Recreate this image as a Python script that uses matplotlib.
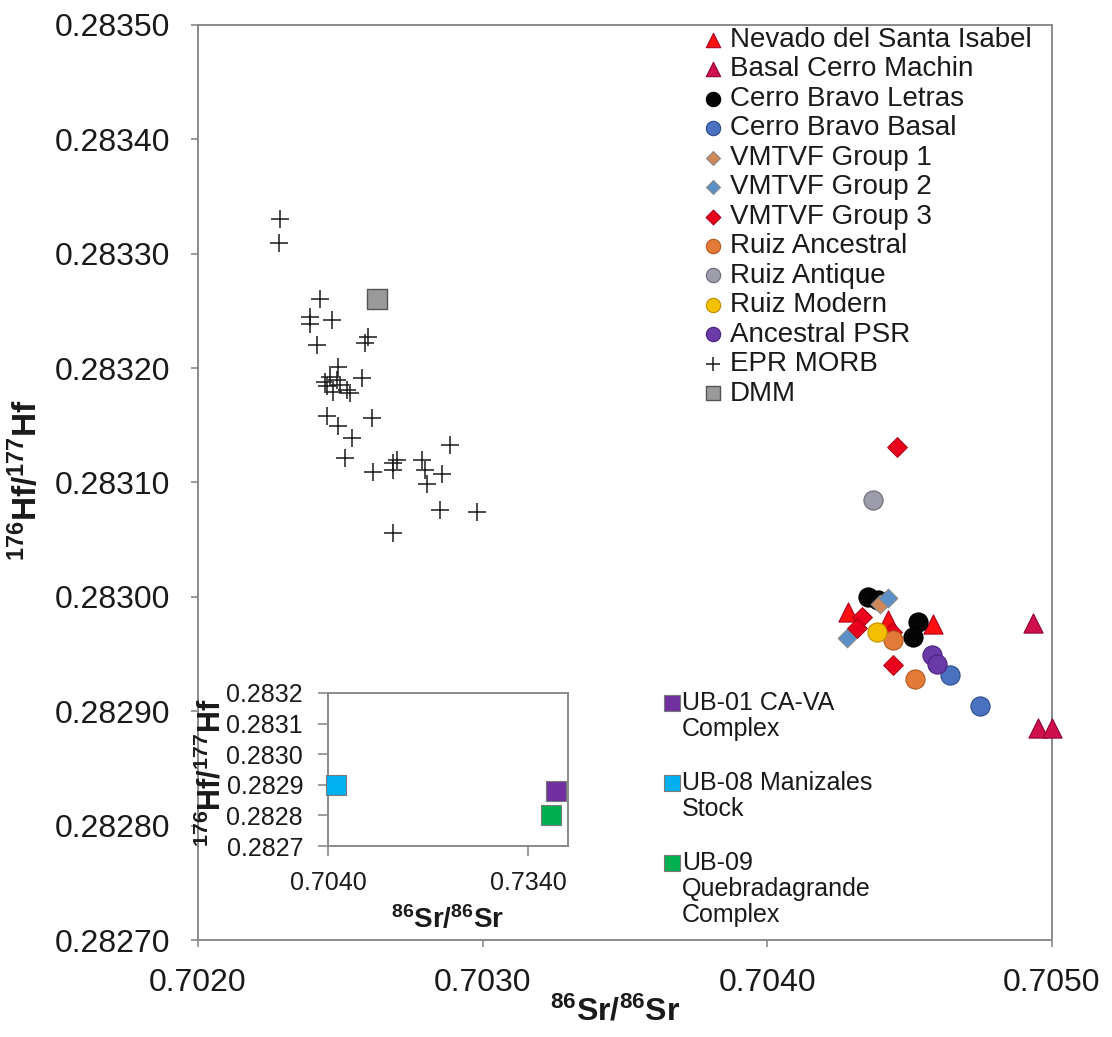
import matplotlib
matplotlib.use("Agg")
import matplotlib.pyplot as plt

plt.rcParams["font.family"] = ["Liberation Sans", "DejaVu Sans"]
plt.rcParams["mathtext.fontset"] = "custom"
plt.rcParams["mathtext.rm"] = "Liberation Sans"
plt.rcParams["mathtext.bf"] = "Liberation Sans:bold"
plt.rcParams["mathtext.it"] = "Liberation Sans:italic"

# ---------------------------------------------------------------- data
nevado_sr = [0.704283, 0.704424, 0.704582]
nevado_hf = [0.282987, 0.282980, 0.282976]

machin_sr = [0.704933, 0.704951, 0.705000]
machin_hf = [0.282977, 0.282885, 0.282885]

cb_letras_sr = [0.704354, 0.704389, 0.704529, 0.704512]
cb_letras_hf = [0.283000, 0.282997, 0.282978, 0.282965]

cb_basal_sr = [0.704642, 0.704747]
cb_basal_hf = [0.282932, 0.282905]

vmtvf1_sr = [0.704396]
vmtvf1_hf = [0.282994]

vmtvf2_sr = [0.704424, 0.704280]
vmtvf2_hf = [0.282999, 0.282964]

vmtvf3_sr = [0.704333, 0.704315, 0.704438, 0.704442, 0.704456]
vmtvf3_hf = [0.282982, 0.282973, 0.282969, 0.282940, 0.283131]

ruiz_anc_sr = [0.704442, 0.704519]
ruiz_anc_hf = [0.282962, 0.282928]

ruiz_ant_sr = [0.704371]
ruiz_ant_hf = [0.283085]

ruiz_mod_sr = [0.704385]
ruiz_mod_hf = [0.282969]

psr_sr = [0.704578, 0.704596]
psr_hf = [0.282949, 0.282941]

morb_sr = [0.702288, 0.702286, 0.702429, 0.702393, 0.702470, 0.702393, 0.702417,
           0.702598, 0.702587, 0.702464, 0.702487, 0.702452, 0.702499, 0.702522,
           0.702475, 0.702534, 0.702446, 0.702493, 0.702575, 0.702452, 0.702610,
           0.702493, 0.702540, 0.702516, 0.702616, 0.702686, 0.702686, 0.702698,
           0.702786, 0.702797, 0.702803, 0.702856, 0.702885, 0.702850, 0.702979,
           0.702686]
morb_hf = [0.283330, 0.283309, 0.283260, 0.283245, 0.283242, 0.283239, 0.283220,
           0.283227, 0.283222, 0.283192, 0.283190, 0.283184, 0.283185, 0.283181,
           0.283179, 0.283178, 0.283188, 0.283201, 0.283191, 0.283158, 0.283156,
           0.283149, 0.283139, 0.283121, 0.283109, 0.283117, 0.283111, 0.283120,
           0.283120, 0.283111, 0.283099, 0.283107, 0.283133, 0.283076, 0.283074,
           0.283056]

dmm_sr = [0.702629]
dmm_hf = [0.283260]

# basement samples (inset)
ub_labels = ["UB-01 CA-VA\nComplex", "UB-08 Manizales\nStock",
             "UB-09\nQuebradagrande\nComplex"]
ub_sr = [0.7382, 0.7052, 0.7375]
ub_hf = [0.28288, 0.28290, 0.28280]
ub_colors = ["#7030A0", "#00B0F0", "#00B050"]

main_xticks = [0.7020, 0.7030, 0.7040, 0.7050]
main_yticks = [0.28270, 0.28280, 0.28290, 0.28300, 0.28310,
               0.28320, 0.28330, 0.28340, 0.28350]
inset_xticks = [0.7040, 0.7340]
inset_yticks = [0.2827, 0.2828, 0.2829, 0.2830, 0.2831, 0.2832]

# ---------------------------------------------------------------- figure
W, H = 1112, 1037
fig = plt.figure(figsize=(W / 100, H / 100), dpi=100)
fig.patch.set_facecolor("white")

ax = fig.add_axes([198 / W, 1 - 940 / H, 854 / W, 915 / H])
spine_col = "#8a8a8a"
for s in ax.spines.values():
    s.set_color(spine_col)
    s.set_linewidth(1.4)

ax.scatter(morb_sr, morb_hf, marker="+", s=170, c="#1a1a1a", linewidths=1.1,
           label="EPR MORB", zorder=2)
ax.scatter(dmm_sr, dmm_hf, marker="s", s=200, c="#9a9a9a", edgecolors="#555555",
           linewidths=1.0, label="DMM", zorder=3)

series = [
    (nevado_sr, nevado_hf, "Nevado del Santa Isabel", "^", "#ff1010", "#b00020", 190),
    (machin_sr, machin_hf, "Basal Cerro Machin", "^", "#d0104c", "#900030", 190),
    (cb_letras_sr, cb_letras_hf, "Cerro Bravo Letras", "o", "#050505", "#000000", 190),
    (cb_basal_sr, cb_basal_hf, "Cerro Bravo Basal", "o", "#4a72c0", "#2c4a8a", 190),
    (vmtvf1_sr, vmtvf1_hf, "VMTVF Group 1", "D", "#d08858", "#8a8a8a", 90),
    (vmtvf2_sr, vmtvf2_hf, "VMTVF Group 2", "D", "#5b8fc8", "#8a8a8a", 90),
    (vmtvf3_sr, vmtvf3_hf, "VMTVF Group 3", "D", "#e8001c", "#b00018", 100),
    (ruiz_anc_sr, ruiz_anc_hf, "Ruiz Ancestral", "o", "#e47a38", "#b05a20", 190),
    (ruiz_ant_sr, ruiz_ant_hf, "Ruiz Antique", "o", "#9c9caa", "#6a6a78", 190),
    (ruiz_mod_sr, ruiz_mod_hf, "Ruiz Modern", "o", "#f4c000", "#c09000", 190),
    (psr_sr, psr_hf, "Ancestral PSR", "o", "#6a3aa8", "#4a2080", 190),
]
handles = {}
for sx, sy, lab, mk, fc, ec, sz in series:
    handles[lab] = ax.scatter(sx, sy, marker=mk, s=sz, c=fc, edgecolors=ec,
                              linewidths=0.8, label=lab, zorder=4, clip_on=False)

ax.set_xlim(0.7020, 0.7050)
ax.set_ylim(0.28270, 0.28350)
ax.set_xticks(main_xticks)
ax.set_yticks(main_yticks)
ax.set_xticklabels([f"{v:.4f}" for v in main_xticks])
ax.set_yticklabels([f"{v:.5f}" for v in main_yticks])
ax.tick_params(axis="both", direction="out", length=5, width=1.2, color=spine_col,
               labelsize=23, pad=15, labelcolor="#1a1a1a")

ax.set_xlabel(r"$\mathbf{{}^{86}Sr/{}^{86}Sr}$", fontsize=23, color="#1a1a1a")
ax.xaxis.set_label_coords(0.488, -0.061)
ax.set_ylabel(r"$\mathbf{{}^{176}Hf/{}^{177}Hf}$", fontsize=24, color="#1a1a1a")
ax.yaxis.set_label_coords(-0.18, 0.503)

order = ["Nevado del Santa Isabel", "Basal Cerro Machin", "Cerro Bravo Letras",
         "Cerro Bravo Basal", "VMTVF Group 1", "VMTVF Group 2", "VMTVF Group 3",
         "Ruiz Ancestral", "Ruiz Antique", "Ruiz Modern", "Ancestral PSR"]
leg_h = [handles[k] for k in order]
leg_l = list(order)
h_morb, l_morb = ax.get_legend_handles_labels()
for h, l in zip(h_morb, l_morb):
    if l in ("EPR MORB", "DMM"):
        leg_h.append(h)
        leg_l.append(l)
leg = ax.legend(leg_h, leg_l, loc="upper left",
                bbox_to_anchor=(705 / W, 1 - 27 / H), bbox_transform=fig.transFigure,
                frameon=False, fontsize=20, labelspacing=0.125, handlelength=0.6,
                handletextpad=0.3, borderpad=0, borderaxespad=0, markerscale=0.75)
for t in leg.get_texts():
    t.set_color("#1a1a1a")

# ---------------------------------------------------------------- inset
axi = fig.add_axes([328 / W, 1 - 846 / H, 240 / W, 153 / H])
for s in axi.spines.values():
    s.set_color(spine_col)
    s.set_linewidth(1.4)
for x, y, c in zip(ub_sr, ub_hf, ub_colors):
    axi.scatter([x], [y], marker="s", s=210, c=c, edgecolors="#7a7a7a",
                linewidths=0.8, zorder=3, clip_on=False)
axi.set_xlim(0.7040, 0.7400)
axi.set_ylim(0.2827, 0.2832)
axi.set_xticks(inset_xticks)
axi.set_yticks(inset_yticks)
axi.set_xticklabels([f"{v:.4f}" for v in inset_xticks])
axi.set_yticklabels([f"{v:.4f}" for v in inset_yticks])
axi.tick_params(axis="both", direction="out", length=7, width=1.2, color=spine_col,
                labelsize=18, pad=11, labelcolor="#1a1a1a")
axi.set_xlabel(r"$\mathbf{{}^{86}Sr/{}^{86}Sr}$", fontsize=20, color="#1a1a1a")
axi.xaxis.set_label_coords(0.5, -0.386)
axi.set_ylabel(r"$\mathbf{{}^{176}Hf/{}^{177}Hf}$", fontsize=22, color="#1a1a1a")
axi.yaxis.set_label_coords(-0.42, 0.477)

# key for the inset, placed to its right
key_tops = [691, 771, 851]
for lab, c, top in zip(ub_labels, ub_colors, key_tops):
    fig.lines.append(plt.Line2D([672 / W], [1 - (top + 12) / H], marker="s",
                                markersize=11, markerfacecolor=c,
                                markeredgecolor="#7a7a7a", markeredgewidth=0.8,
                                linestyle="none", transform=fig.transFigure))
    fig.text(682 / W, 1 - top / H, lab, ha="left", va="top", fontsize=18,
             linespacing=1.1, color="#1a1a1a")

fig.savefig("out.png", dpi=100, facecolor="white")
